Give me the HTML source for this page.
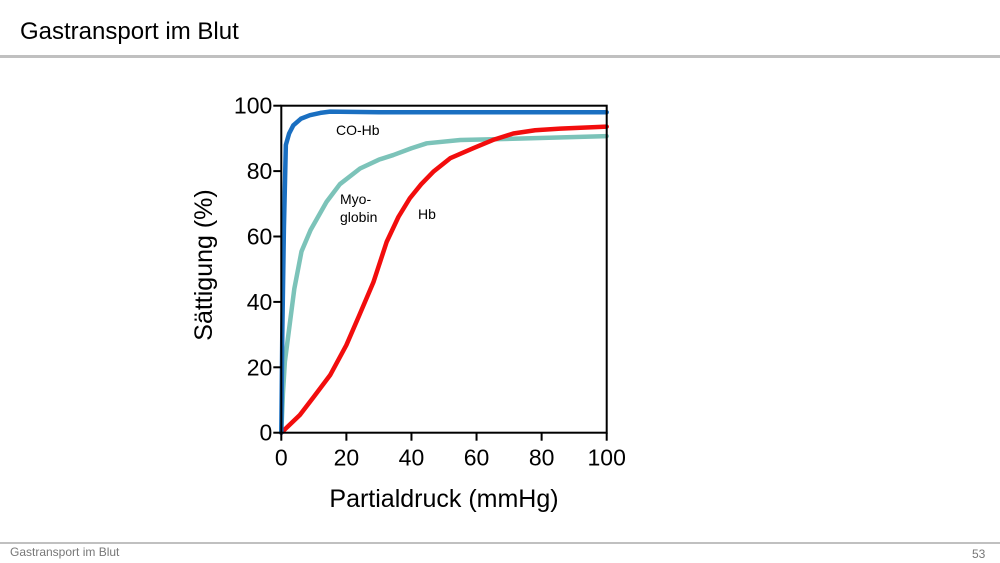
<!DOCTYPE html>
<html><head><meta charset="utf-8"><style>
body{margin:0;width:1000px;height:563px;background:#fff;font-family:"Liberation Sans",sans-serif;overflow:hidden;position:relative}
.t{position:absolute}
</style></head><body>
<div class="t" style="left:20px;top:18px;font-size:24px;color:#000">Gastransport im Blut</div>
<div class="t" style="left:0;top:55px;width:1000px;height:3px;background:#c0c0c0"></div>
<div class="t" style="left:0;top:542px;width:1000px;height:2px;background:#c0c0c0"></div>
<div class="t" style="left:10px;top:545px;font-size:12px;color:#777">Gastransport im Blut</div>
<div class="t" style="left:972px;top:547px;font-size:12px;color:#777">53</div>
<svg class="t" style="left:0;top:0" width="1000" height="563">
<g id="g"></g>
</svg>
<script>
const xTicks=[0,20,40,60,80,100];
const yTicks=[0,20,40,60,80,100];
const hbX=[0,5.7,10,15,20,24,28.3,32.4,36,39.5,43,46.7,52,59,65,71.3,78,85.7,100];
const hbY=[0,5.4,11,17.6,26.8,36,46,58.4,66,71.7,76,79.8,84,87,89.5,91.5,92.5,93,93.6];
const myoX=[0,0.5,1.1,2.7,4,6.2,9,13.9,18,24.2,30,34.4,40,44.7,55,75.4,100];
const myoY=[0,12,21.7,34,44,55.4,62,70.6,76,80.8,83.5,84.9,87,88.5,89.5,90,90.7];
const coX=[0,0.3,0.8,1.4,2.4,3.7,6,8.8,12,15,30,100];
const coY=[0,30,62.5,88,91.5,94,96,97.1,97.8,98.2,98,98];
const X0=281.3,X1=606.7,Y0=432.7,Y1=105.7;
const sx=v=>X0+(X1-X0)*v/100, sy=v=>Y0-(Y0-Y1)*v/100;
const NS='http://www.w3.org/2000/svg', g=document.getElementById('g');
function mk(t,a){const e=document.createElementNS(NS,t);for(const k in a)e.setAttribute(k,a[k]);g.appendChild(e);return e;}
function line(xs,ys,col,name){
 const e=mk('polyline',{points:xs.map((x,i)=>sx(x)+','+sy(ys[i])).join(' '),fill:'none',stroke:col,'stroke-width':4.5,'stroke-linejoin':'round','stroke-linecap':'round'});
 
 
}
line(myoX,myoY,'#7cc3b9','myoglobin-curve');
line(hbX,hbY,'#f20d0d','hb-curve');
line(coX,coY,'#1a6fc1','co-hb-curve');
const box=mk('rect',{x:X0,y:Y1,width:X1-X0,height:Y0-Y1,fill:'none',stroke:'#000','stroke-width':2});


xTicks.forEach(v=>{
 const l=mk('line',{x1:sx(v),x2:sx(v),y1:Y0,y2:Y0+8,stroke:'#000','stroke-width':2});
 
 
 const t=mk('text',{x:sx(v),y:Y0+33,'text-anchor':'middle','font-size':23});
 t.textContent=v;
 
 
});
yTicks.forEach(v=>{
 const l=mk('line',{x1:X0-8,x2:X0,y1:sy(v),y2:sy(v),stroke:'#000','stroke-width':2});
 
 
 const t=mk('text',{x:X0-9,y:sy(v)+8,'text-anchor':'end','font-size':23});
 t.textContent=v;
 
 
});
function txt(x,y,s,size,name,extra){const t=mk('text',Object.assign({x:x,y:y,'font-size':size},extra||{}));t.textContent=s;return t;}
txt(444,507,'Partialdruck (mmHg)',25,'x-axis-title',{'text-anchor':'middle'});
txt(212,265,'Sättigung (%)',25,'y-axis-title',{'text-anchor':'middle',transform:'rotate(-90 212 265)'});
txt(336,135,'CO-Hb',14,'co-hb-label');
txt(340,204,'Myo-',14,'myoglobin-label-1');
txt(340,222,'globin',14,'myoglobin-label-2');
txt(418,219,'Hb',14,'hb-label');
</script>
</body></html>
